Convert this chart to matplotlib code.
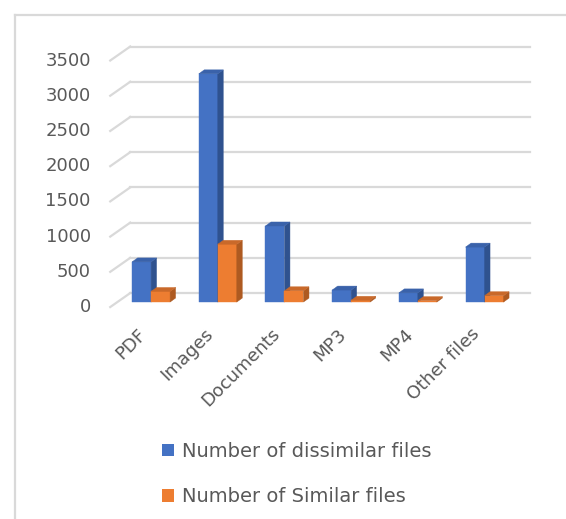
"""Dissimilar vs similar files per type, drawn as pseudo-3D columns"""

import matplotlib.pyplot as plt
from matplotlib.lines import Line2D
from matplotlib.patches import Patch, Polygon

# data
categories = ["PDF", "Images", "Documents", "MP3", "MP4", "Other files"]
dissimilar = [570, 3240, 1080, 170, 130, 780]
similar = [150, 820, 160, 25, 20, 90]
series_names = ["Number of dissimilar files", "Number of Similar files"]
yticks = [0, 500, 1000, 1500, 2000, 2500, 3000, 3500]

# colours: front face, side face, top face
BLUE = ("#4472C4", "#2F528F", "#3A62AA")
ORANGE = ("#ED7D31", "#AE5A21", "#C9692A")
GRID = "#D9D9D9"
TEXT = "#595959"

plt.rcParams["font.family"] = ["DejaVu Sans"]

fig = plt.figure(figsize=(5.66, 5.19), dpi=100)
ax = fig.add_axes([0.208, 0.418, 0.707, 0.475])
ax.set_xlim(-0.5, len(categories) - 0.5)
ax.set_ylim(0, 3500)
ax.axis("off")

# pixel -> data scale for the depth offsets
px_x = (len(categories)) / (0.707 * 566)
px_y = 3500 / (0.475 * 519)


def shift(dx, dy):
    """offset in data units from an offset in pixels"""
    return dx * px_x, dy * px_y


back = shift(12.5, 9)
front = shift(-7.5, -5)
x0, x1 = -0.5, len(categories) - 0.5

# back wall gridlines + the slanted lines on the side
for v in yticks:
    ax.plot([x0 + back[0], x1 + back[0]], [v + back[1]] * 2,
            color=GRID, lw=1.6, clip_on=False, zorder=1)
    ax.plot([x0 + front[0], x0 + back[0]], [v + front[1], v + back[1]],
            color=GRID, lw=1.6, clip_on=False, zorder=1)
    ax.annotate(str(v), (x0, v), xytext=(-27, -5), textcoords="offset pixels",
                ha="right", va="center", fontsize=13, color=TEXT,
                annotation_clip=False)

# columns
bar_w = 0.285
depth = shift(5.5, 4)


def column(xl, h, colours):
    front_c, side_c, top_c = colours
    xr = xl + bar_w
    dx, dy = depth
    faces = [
        ([(xl, 0), (xr, 0), (xr, h), (xl, h)], front_c),
        ([(xr, 0), (xr + dx, dy), (xr + dx, h + dy), (xr, h)], side_c),
        ([(xl, h), (xr, h), (xr + dx, h + dy), (xl + dx, h + dy)], top_c),
    ]
    for pts, c in faces:
        ax.add_patch(Polygon(pts, closed=True, facecolor=c, edgecolor=c,
                             lw=0.3, clip_on=False, zorder=3))


for i, cat in enumerate(categories):
    column(i - bar_w, dissimilar[i], BLUE)
    column(i, similar[i], ORANGE)
    ax.annotate(cat, (i, 0), xytext=(-14, -23), textcoords="offset pixels",
                rotation=45, rotation_mode="anchor", ha="right", va="top",
                fontsize=13, color=TEXT, annotation_clip=False)

# legend
handles = [Patch(facecolor=BLUE[0]), Patch(facecolor=ORANGE[0])]
fig.legend(handles, series_names, loc="upper left",
           bbox_to_anchor=(162 / 566, 1 - 442 / 519), frameon=False,
           fontsize=14, labelcolor=TEXT, handlelength=0.6, handleheight=0.6,
           handletextpad=0.45, labelspacing=1.35, borderpad=0, borderaxespad=0)

# chart area border
fig.add_artist(Line2D([15 / 566, 15 / 566], [0, 1 - 15 / 519],
                      color=GRID, lw=1.6))
fig.add_artist(Line2D([15 / 566, 1], [1 - 15 / 519] * 2, color=GRID, lw=1.6))

fig.savefig("out.png", dpi=100)
